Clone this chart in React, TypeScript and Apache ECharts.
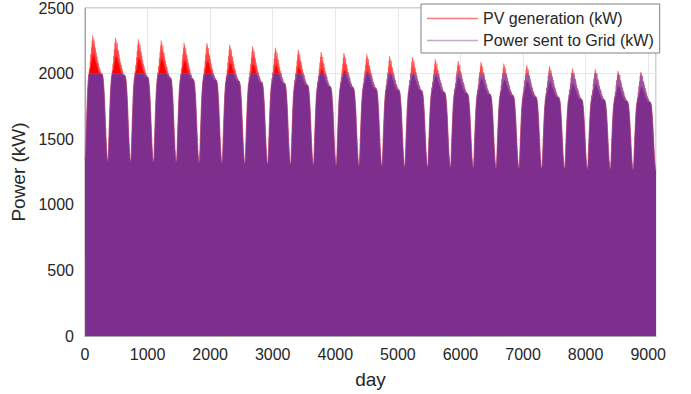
import React, { useEffect, useRef } from "react";
import * as echarts from "echarts";

// Day-of-year sample points of the first-year PV envelope (daily peak power, kW)
const profileDay = [
  0, 6, 12, 20, 28, 36, 44, 52, 58, 64, 70, 76, 82, 88, 94, 99, 104, 109, 114, 118,
  123, 127, 132, 136, 141, 145, 150, 154, 159, 163, 168, 173, 179, 185, 191, 197, 203,
  209, 215, 221, 228, 234, 240, 246, 254, 262, 270, 278, 284, 290, 296, 302, 308, 314,
  320, 326, 332, 338, 344, 350, 355, 359, 364,
];
const profileYear1KW = [
  1345, 1360, 1440, 1570, 1690, 1800, 1890, 1950, 1985, 2000, 2040, 2020, 2090, 2050, 2150, 2080, 2200, 2110, 2250, 2130,
  2290, 2150, 2270, 2140, 2220, 2140, 2250, 2130, 2200, 2110, 2190, 2090, 2160, 2070, 2130, 2050, 2100,
  2030, 2080, 2015, 2050, 2000, 2030, 1998, 2010, 1998, 2000, 1995, 1980, 1965, 1935, 1890, 1845, 1785,
  1710, 1635, 1560, 1490, 1430, 1385, 1350, 1333, 1340,
];
// Highest PV spike of each of the 25 years (kW)
const yearPeakKW = [
  2290, 2273, 2260, 2252, 2235, 2232, 2220, 2207, 2197, 2182, 2164, 2156, 2147,
  2132, 2126, 2109, 2096, 2088, 2076, 2063, 2056, 2039, 2033, 2020, 2013,
];
// Winter minimum of the daily peak for each year (kW)
const yearTroughKW = [
  1333, 1331, 1327, 1326, 1321, 1318, 1316, 1311, 1309, 1304, 1301, 1297, 1296,
  1291, 1290, 1286, 1285, 1281, 1280, 1277, 1276, 1272, 1271, 1268, 1262,
];
const gridLimitKW = 2000;
const daysPerYear = 365;
const xTickInterval = 1000;
const yTicks = [0, 500, 1000, 1500, 2000, 2500];

const seriesNames = ["PV generation (kW)", "Power sent to Grid (kW)"];

function buildData() {
  const p1 = yearPeakKW[0];
  const t1 = yearTroughKW[0];
  const pv: [number, number][] = [];
  const grid: [number, number][] = [];
  yearPeakKW.forEach((peak, y) => {
    const trough = yearTroughKW[y];
    const k = (peak - trough) / (p1 - t1);
    profileDay.forEach((d, i) => {
      const v = trough + (profileYear1KW[i] - t1) * k;
      const x = y * daysPerYear + d;
      pv.push([x, Math.round(v)]);
      grid.push([x, Math.round(Math.min(v, gridLimitKW))]);
    });
  });
  return { pv, grid };
}

export default function App() {
  const ref = useRef<HTMLDivElement>(null);
  useEffect(() => {
    if (!ref.current) return;
    const chart = echarts.init(ref.current, undefined, { renderer: "svg" });
    const { pv, grid } = buildData();
    const font = "'Liberation Sans', Arial, Helvetica, sans-serif";
    const lastDay = yearPeakKW.length * daysPerYear;
    const plain = (v: number) => String(v);
    chart.setOption({
      animation: false,
      backgroundColor: "#ffffff",
      grid: {
        left: 85,
        right: 35,
        top: 7,
        bottom: 56,
        show: true,
        borderColor: "#a6a6a6",
        borderWidth: 1,
      },
      legend: {
        left: 421,
        top: 4,
        orient: "vertical",
        icon: "rect",
        itemWidth: 51,
        itemHeight: 1.5,
        itemGap: 3,
        padding: [5, 6, 3, 6],
        borderColor: "#808080",
        borderWidth: 1,
        backgroundColor: "#ffffff",
        selectedMode: false,
        textStyle: { fontSize: 16, color: "#262626", fontFamily: font, lineHeight: 19 },
        data: [
          { name: seriesNames[0], itemStyle: { color: "#f77b7b" } },
          { name: seriesNames[1], itemStyle: { color: "#c7a3cf" } },
        ],
      },
      xAxis: {
        type: "value",
        min: 0,
        max: lastDay,
        interval: xTickInterval,
        name: "day",
        nameLocation: "middle",
        nameGap: 34,
        nameTextStyle: { fontSize: 19, color: "#262626", fontFamily: font },
        axisLine: { show: true, lineStyle: { color: "#a6a6a6" } },
        axisTick: { show: false },
        axisLabel: {
          fontSize: 16,
          color: "#262626",
          fontFamily: font,
          margin: 10,
          showMaxLabel: false,
          formatter: plain,
        },
        splitLine: { show: true, lineStyle: { color: "#e8e8e8", width: 1 } },
      },
      yAxis: {
        type: "value",
        min: yTicks[0],
        max: yTicks[yTicks.length - 1],
        interval: yTicks[1] - yTicks[0],
        name: "Power (kW)",
        nameLocation: "middle",
        nameGap: 52,
        nameTextStyle: { fontSize: 19, color: "#262626", fontFamily: font },
        axisLine: { show: true, lineStyle: { color: "#a6a6a6" } },
        axisTick: { show: false },
        axisLabel: { fontSize: 16, color: "#262626", fontFamily: font, margin: 11, formatter: plain },
        splitLine: { show: true, lineStyle: { color: "#e8e8e8", width: 1 } },
      },
      series: [
        {
          name: seriesNames[0],
          type: "line",
          data: pv,
          showSymbol: false,
          symbol: "none",
          lineStyle: { width: 0.5, color: "#ff4040" },
          itemStyle: { color: "#ff0000" },
          areaStyle: { color: "#ff0000", opacity: 1 },
          z: 2,
        },
        {
          name: seriesNames[1],
          type: "line",
          data: grid,
          showSymbol: false,
          symbol: "none",
          lineStyle: { width: 0.5, color: "#9a5aa6" },
          itemStyle: { color: "#7e2f8e" },
          areaStyle: { color: "#7e2f8e", opacity: 1 },
          z: 3,
        },
      ],
    });
    return () => chart.dispose();
  }, []);
  return (
    <div
      ref={ref}
      style={{ position: "fixed", left: 0, top: 0, width: 691, height: 394 }}
    />
  );
}
